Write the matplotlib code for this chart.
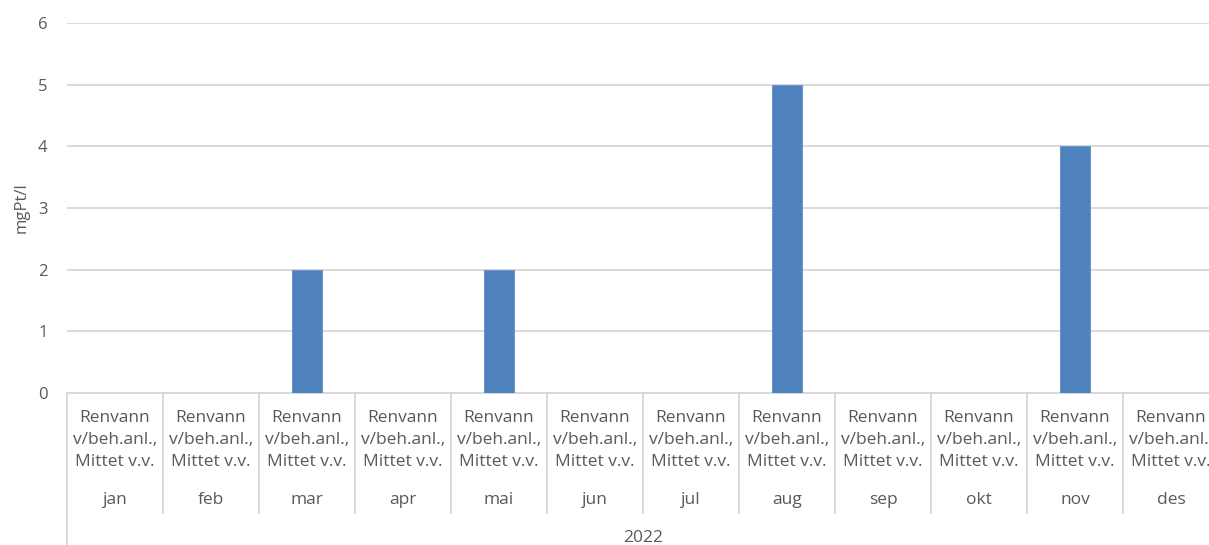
import numpy as np
import matplotlib.pyplot as plt

plt.rcParams['font.family'] = ['Open Sans', 'DejaVu Sans']

# monthly values, nan where no sample was taken
months = ['jan', 'feb', 'mar', 'apr', 'mai', 'jun', 'jul', 'aug', 'sep', 'okt', 'nov', 'des']
values = [np.nan, np.nan, 2, np.nan, 2, np.nan, np.nan, 5, np.nan, np.nan, 4, np.nan]
site = ['Renvann', 'v/beh.anl.,', 'Mittet v.v.']
year = '2022'
yticks = [0, 1, 2, 3, 4, 5, 6]

txt = '#595959'
grid = '#d9d9d9'
fs = 12.5

fig = plt.figure(figsize=(12.09, 5.45), dpi=100)
# axes runs a bit past the right edge, last column gets cut
ax = fig.add_axes([67 / 1209, 152 / 545, 1152 / 1209, 370 / 545])

x = np.arange(len(months))
ax.bar(x, values, width=0.31, color='#4f81bd', edgecolor='#7097cb', linewidth=0.8, zorder=3)

ax.set_xlim(-0.5, len(months) - 0.5)
ax.set_ylim(0, 6)
ax.set_yticks(yticks)
ax.yaxis.grid(True, color=grid, linewidth=1.4)
ax.set_axisbelow(True)
ax.tick_params(axis='y', length=0, pad=14, labelsize=12, labelcolor=txt)
ax.set_xticks([])
for s in ['left', 'right', 'top']:
    ax.spines[s].set_visible(False)
ax.spines['bottom'].set_color(grid)
ax.spines['bottom'].set_linewidth(1.4)

ax.set_ylabel('mgPt/l', color=txt, fontsize=12, labelpad=6)

# multi-level category axis below the plot
h = 370.0
tr = ax.get_xaxis_transform()
for i, m in enumerate(months):
    for k, line in enumerate(site):
        ax.text(i, -(25 + 22 * k) / h, line, transform=tr, ha='center', va='center',
                fontsize=fs, color=txt, clip_on=False)
    ax.text(i, -107 / h, m, transform=tr, ha='center', va='center',
            fontsize=fs, color=txt, clip_on=False)

for b in np.arange(len(months) + 1) - 0.5:
    bottom = -152 / h if b == -0.5 else -120 / h
    ax.plot([b, b], [0, bottom], transform=tr, color=grid, linewidth=1.4, clip_on=False)

ax.text((len(months) - 1) / 2, -145 / h, year, transform=tr, ha='center', va='center',
        fontsize=fs, color=txt, clip_on=False)

fig.savefig('out.png', dpi=100)
